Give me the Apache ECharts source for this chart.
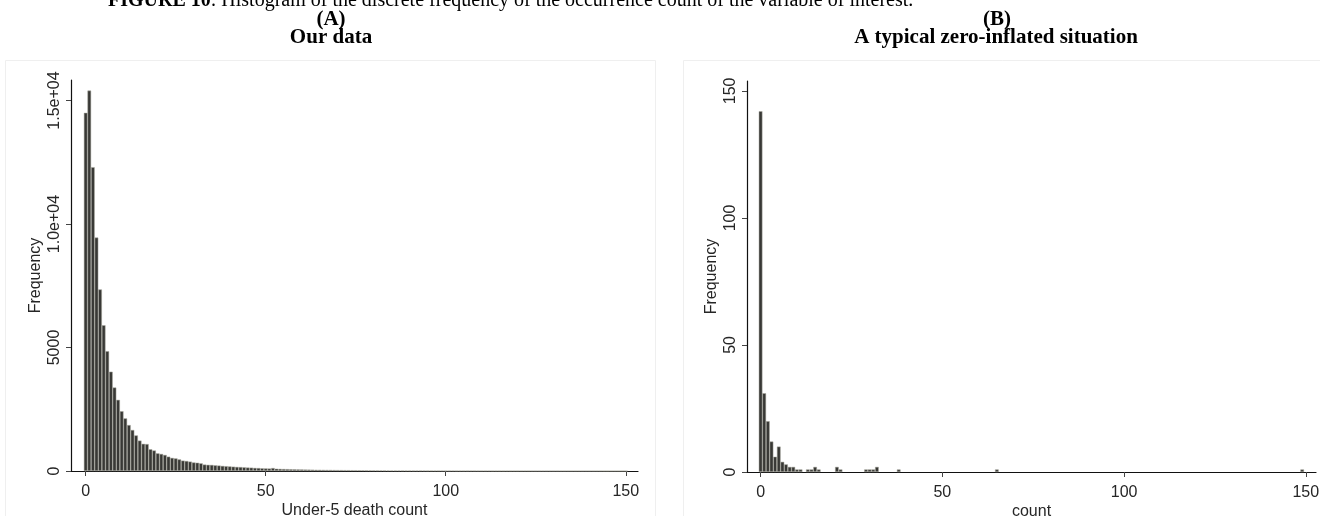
<!DOCTYPE html>
<html>
<head>
<meta charset="utf-8">
<script src="https://cdn.jsdelivr.net/npm/echarts@6/dist/echarts.min.js"></script>
<style>
html,body{margin:0;padding:0;background:#fff;}
#chart{width:1320px;height:516px;}
</style>
</head>
<body>
<div id="chart"></div>
<script>
// ---------- Data ----------
// Panel A: frequency of under-5 death count, counts 0..150
const freqA = [
  14500,15400,12300,9450,7350,5900,4850,4020,3380,2880,
  2420,2130,1860,1660,1440,1230,1100,1090,880,830,
  715,690,650,580,530,510,470,420,405,380,
  345,335,310,260,250,245,230,220,205,195,
  185,175,165,160,150,140,135,125,120,110,
  105,100,120,92,85,80,76,72,68,65,
  62,58,56,53,51,49,46,44,42,40,
  38,37,35,34,32,31,30,29,27,26,
  25,24,23,22,21,20,19,18,17,16,
  16,15,14,14,13,12,12,11,11,10,
  10,
  9,9,8,8,8,7,7,7,6,6,
  6,6,5,5,5,5,5,4,4,4,
  4,4,4,3,3,3,3,3,3,3,
  3,2,2,2,2,2,2,2,2,2,
  2,2,2,1,1,1,1,1,1,1
];
// Panel B: typical zero-inflated situation (non-zero counts only)
const countsB = [0,1,2,3,4,5,6,7,8,9,10,11,13,14,15,16,21,22,29,30,31,32,38,65,149];
const freqB   = [142,31,20,12,6,10,4,3,2,2,1,1,1,1,2,1,2,1,1,1,1,2,1,1,1];

const xTicks = [0,50,100,150];
const yTicksA = [0,5000,10000,15000];
const yTickLabelsA = ['0','5000','1.0e+04','1.5e+04'];
const yTicksB = [0,50,100,150];
const yTickLabelsB = ['0','50','100','150'];

const panelTitles = ['(A)','(B)'];
const panelSubtitles = ['Our data','A typical zero-inflated situation'];
const xNames = ['Under-5 death count','count'];
const yName = 'Frequency';
const captionBold = 'FIGURE 10';
const captionRest = ': Histogram of the discrete frequency of the occurrence count of the variable of interest.';

// ---------- Layout ----------
const gridA = {left:71, top:80, width:567, height:391};
const gridB = {left:747, top:81, width:569, height:391};
const xRangeA = [-4.08, 153.4];
const xRangeB = [-3.74, 152.8];
const yMaxA = 15830;
const yMaxB = 153.9;

const SANS = 'Liberation Sans, Arial, sans-serif';
const SERIF = 'Liberation Serif, Times New Roman, serif';
const TXT = '#262626';

function xAxisCfg(gi, range, name){
  return {
    type:'value', gridIndex:gi, min:range[0], max:range[1],
    name:name, nameLocation:'middle', nameGap:32, nameMoveOverlap:false,
    nameTextStyle:{fontFamily:SANS, fontSize:16, color:TXT},
    axisLine:{show:true, onZero:false, lineStyle:{color:'#111', width:1.2}},
    axisTick:{show:true, length:5, customValues:xTicks, lineStyle:{color:'#444', width:1}},
    axisLabel:{show:true, customValues:xTicks, fontFamily:SANS, fontSize:16, color:TXT, margin:13},
    splitLine:{show:false}
  };
}
function yAxisCfg(gi, max, ticks, labels){
  return {
    type:'value', gridIndex:gi, min:0, max:max,
    name:yName, nameLocation:'middle', nameGap:27, nameMoveOverlap:false,
    nameTextStyle:{fontFamily:SANS, fontSize:16, color:TXT},
    axisLine:{show:true, onZero:false, lineStyle:{color:'#111', width:1.2}},
    axisTick:{show:true, length:5, customValues:ticks, lineStyle:{color:'#444', width:1}},
    axisLabel:{show:true, customValues:ticks, rotate:90, fontFamily:SANS, fontSize:16, color:TXT, margin:8,
      formatter:function(v){ const i = ticks.indexOf(v); return i>=0 ? labels[i] : ''; }},
    splitLine:{show:false}
  };
}

const barStyle = {color:'#383835', borderColor:'#a9a99e', borderWidth:0.5};

const option = {
  animation:false,
  backgroundColor:'#fff',
  grid:[
    Object.assign({containLabel:false, outerBoundsMode:'none'}, gridA),
    Object.assign({containLabel:false, outerBoundsMode:'none'}, gridB)
  ],
  xAxis:[ xAxisCfg(0, xRangeA, xNames[0]), xAxisCfg(1, xRangeB, xNames[1]) ],
  yAxis:[ yAxisCfg(0, yMaxA, yTicksA, yTickLabelsA), yAxisCfg(1, yMaxB, yTicksB, yTickLabelsB) ],
  series:[
    {
      type:'bar', xAxisIndex:0, yAxisIndex:0,
      barWidth: gridA.width/(xRangeA[1]-xRangeA[0]),
      itemStyle:barStyle,
      data: freqA.map((v,i)=>[i,v])
    },
    {
      type:'bar', xAxisIndex:1, yAxisIndex:1,
      barWidth: gridB.width/(xRangeB[1]-xRangeB[0]),
      itemStyle:barStyle,
      data: countsB.map((c,i)=>[c,freqB[i]])
    }
  ],
  graphic:[
    {type:'rect', z:-10, shape:{x:5.5, y:60.5, width:650, height:460}, style:{fill:'none', stroke:'#efefef', lineWidth:1}},
    {type:'rect', z:-10, shape:{x:683.5, y:60.5, width:640, height:460}, style:{fill:'none', stroke:'#efefef', lineWidth:1}},
    {type:'text', x:108, y:1, style:{
      text:'{b|'+captionBold+'}{n|'+captionRest+'}', verticalAlign:'middle',
      rich:{ b:{fontFamily:SERIF, fontWeight:'bold', fontSize:20, fill:'#000'},
             n:{fontFamily:SERIF, fontSize:20, fill:'#000'} }
    }},
    {type:'text', x:331, y:19.5, style:{text:panelTitles[0], fontFamily:SERIF, fontWeight:'bold', fontSize:21, fill:'#000', align:'center', verticalAlign:'middle'}},
    {type:'text', x:331, y:37.5, style:{text:panelSubtitles[0], fontFamily:SERIF, fontWeight:'bold', fontSize:21, fill:'#000', align:'center', verticalAlign:'middle'}},
    {type:'text', x:997, y:19.5, style:{text:panelTitles[1], fontFamily:SERIF, fontWeight:'bold', fontSize:21, fill:'#000', align:'center', verticalAlign:'middle'}},
    {type:'text', x:996, y:37.5, style:{text:panelSubtitles[1], fontFamily:SERIF, fontWeight:'bold', fontSize:21, fill:'#000', align:'center', verticalAlign:'middle'}}
  ]
};

const chart = echarts.init(document.getElementById('chart'), null, {renderer:'canvas'});
chart.setOption(option);
</script>
</body>
</html>
